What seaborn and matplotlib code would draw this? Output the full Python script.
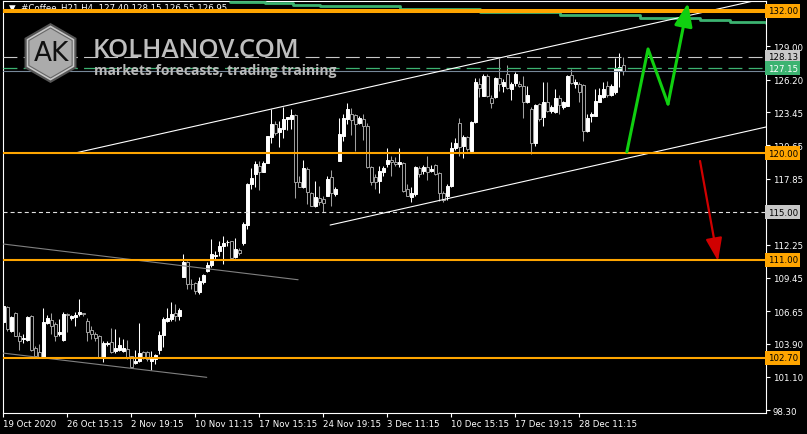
import matplotlib
matplotlib.use('Agg')
import matplotlib.pyplot as plt
from matplotlib.patches import RegularPolygon
import seaborn as sns
import numpy as np

# H4 candles, #Coffee_H21
opens = [105.70, 106.97, 105.00, 106.46, 104.52, 104.30, 104.21, 106.21, 103.53, 103.22,
         102.75, 105.62, 105.93, 105.56, 104.69, 104.24, 106.43, 106.04, 106.12, 106.38,
         106.49, 105.84, 105.06, 104.72, 104.52, 102.75, 103.90, 104.07, 103.25, 103.39,
         103.31, 103.45, 102.83, 102.27, 102.47, 103.17, 103.17, 102.47, 102.61, 103.36,
         104.63, 105.84, 105.98, 106.46, 106.26, 109.56, 110.77, 108.97, 109.00, 108.24,
         109.09, 110.07, 110.58, 111.28, 111.70, 112.18, 112.46, 112.58, 111.20, 111.82,
         112.41, 113.96, 117.39, 118.23, 118.94, 118.43, 119.16, 121.33, 122.46, 121.75,
         122.03, 122.88, 122.91, 123.24, 117.53, 117.16, 118.66, 116.60, 115.56, 116.21,
         116.13, 116.41, 117.96, 116.55, 119.36, 121.48, 122.88, 123.30, 123.22, 122.54,
         122.88, 122.32, 118.80, 117.96, 117.67, 118.44, 119.08, 119.45, 119.28, 119.08,
         119.17, 116.97, 116.27, 116.55, 118.72, 118.52, 118.80, 118.46, 119.00, 118.32,
         116.63, 116.35, 117.20, 120.40, 122.54, 120.57, 121.33, 120.20, 122.59, 125.83,
         124.84, 126.53, 124.62, 124.70, 126.31, 125.69, 126.67, 125.41, 125.91, 125.83,
         125.69, 124.28, 123.72, 120.85, 124.14, 123.01, 124.34, 123.58, 123.44, 124.62,
         123.86, 124.00, 126.59, 125.83, 125.80, 125.75, 121.89, 123.10, 123.16, 124.34,
         124.70, 125.63, 124.90, 125.13, 126.96, 127.40]
highs = [108.09, 107.11, 106.26, 106.60, 104.91, 104.72, 106.21, 106.32, 103.73, 103.87,
         106.89, 106.32, 106.46, 105.70, 105.98, 106.60, 106.49, 106.35, 106.60, 107.67,
         106.49, 106.04, 105.42, 104.86, 104.63, 104.15, 104.15, 105.20, 105.14, 104.43,
         104.30, 104.24, 102.89, 103.39, 105.65, 103.31, 103.28, 103.31, 103.03, 105.00,
         106.12, 106.89, 107.39, 107.25, 106.89, 111.48, 110.91, 109.37, 109.09, 109.56,
         109.79, 110.77, 112.74, 111.70, 112.60, 113.03, 112.66, 112.60, 112.83, 111.98,
         114.15, 117.45, 118.74, 119.36, 119.36, 119.36, 121.44, 123.72, 122.68, 122.68,
         123.86, 123.08, 123.72, 123.30, 118.09, 119.42, 118.80, 116.69, 117.61, 117.20,
         116.41, 118.10, 118.58, 117.11, 122.94, 123.30, 124.23, 123.78, 123.30, 123.16,
         123.30, 122.54, 118.89, 118.24, 118.89, 118.89, 120.40, 119.73, 119.65, 120.40,
         119.22, 117.39, 117.11, 118.89, 118.94, 119.00, 119.73, 119.00, 119.05, 118.38,
         116.83, 117.39, 120.97, 121.25, 122.94, 121.53, 121.40, 122.73, 126.31, 126.31,
         126.67, 126.67, 124.90, 126.39, 128.00, 126.25, 127.43, 126.03, 126.81, 126.11,
         126.53, 125.69, 123.86, 124.14, 124.23, 126.03, 126.03, 124.06, 125.41, 124.90,
         124.42, 126.59, 127.10, 126.25, 125.97, 125.83, 123.30, 123.49, 125.41, 125.46,
         126.03, 126.11, 125.83, 128.00, 128.45, 128.15]
lows = [105.56, 105.00, 104.86, 104.52, 103.39, 103.96, 104.15, 103.31, 102.75, 102.66,
        102.66, 105.56, 104.72, 104.15, 104.57, 104.15, 104.86, 105.93, 105.42, 106.21,
        106.21, 104.15, 104.30, 104.15, 102.66, 102.38, 103.73, 103.11, 103.11, 103.31,
        103.23, 102.61, 101.82, 102.18, 102.32, 102.61, 102.44, 101.70, 102.18, 103.03,
        103.59, 105.70, 105.84, 105.84, 105.93, 109.51, 108.52, 108.52, 108.10, 108.10,
        108.94, 109.93, 110.35, 111.06, 111.34, 110.63, 112.18, 111.06, 111.14, 111.42,
        112.27, 113.59, 116.97, 117.11, 116.88, 118.37, 119.13, 120.82, 121.56, 120.54,
        121.27, 121.95, 122.03, 116.21, 117.11, 117.05, 115.70, 115.50, 115.47, 115.62,
        115.06, 116.35, 115.51, 116.35, 119.30, 121.05, 122.46, 121.53, 120.21, 122.46,
        121.14, 118.75, 117.31, 116.97, 116.63, 118.10, 118.80, 118.04, 118.89, 118.80,
        116.69, 116.35, 115.90, 116.35, 117.96, 118.24, 117.76, 118.38, 118.15, 115.98,
        115.90, 116.07, 117.15, 120.29, 119.73, 119.56, 120.20, 120.12, 122.54, 124.70,
        124.79, 124.70, 123.77, 124.62, 125.27, 125.18, 125.41, 124.51, 125.69, 125.55,
        122.93, 124.23, 119.92, 120.62, 122.73, 122.25, 123.49, 123.38, 123.38, 123.30,
        123.72, 123.94, 125.83, 125.46, 124.34, 121.04, 121.75, 122.59, 123.10, 124.28,
        124.62, 124.70, 124.84, 124.98, 125.55, 126.55]
closes = [107.11, 105.14, 106.12, 104.57, 104.15, 104.33, 106.12, 103.36, 102.89, 102.75,
          105.70, 106.04, 105.42, 104.57, 104.91, 106.40, 106.32, 106.21, 106.35, 106.55,
          106.43, 104.86, 104.72, 104.35, 102.75, 103.96, 103.93, 103.22, 103.53, 103.79,
          103.51, 102.66, 101.90, 102.47, 103.11, 102.75, 102.61, 102.66, 102.94, 104.63,
          105.98, 106.04, 106.40, 106.21, 106.74, 110.77, 108.94, 108.91, 108.38, 109.17,
          109.70, 110.55, 111.48, 111.42, 112.18, 112.41, 112.49, 111.11, 111.90, 111.53,
          114.01, 117.39, 117.87, 119.08, 118.43, 119.16, 121.44, 122.46, 121.67, 122.12,
          122.88, 123.02, 123.22, 117.53, 117.16, 118.74, 116.69, 115.56, 116.26, 115.84,
          115.79, 117.81, 116.63, 116.97, 121.62, 122.94, 123.73, 122.83, 122.46, 122.94,
          122.32, 118.80, 117.53, 117.59, 118.52, 118.72, 119.45, 119.28, 119.08, 119.28,
          116.83, 116.41, 116.63, 118.80, 118.24, 118.80, 118.44, 118.66, 118.24, 116.63,
          116.07, 117.25, 120.40, 120.86, 120.49, 121.33, 120.34, 122.59, 125.97, 125.46,
          126.53, 124.79, 124.23, 126.31, 125.83, 126.03, 125.46, 125.83, 126.67, 125.63,
          124.28, 124.90, 120.85, 124.06, 122.87, 124.28, 123.58, 123.86, 124.62, 124.06,
          124.28, 126.53, 125.91, 126.03, 125.13, 121.89, 122.93, 123.30, 124.42, 124.90,
          125.41, 124.90, 125.69, 127.15, 127.24, 126.95]

date_ticks = [0, 16, 32, 48, 64, 80, 96, 112, 128, 144]
date_labels = ['19 Oct 2020', '26 Oct 15:15', '2 Nov 19:15', '10 Nov 11:15', '17 Nov 15:15',
               '24 Nov 19:15', '3 Dec 11:15', '10 Dec 15:15', '17 Dec 19:15', '28 Dec 11:15']
price_ticks = [98.30, 101.10, 103.90, 106.65, 109.45, 112.25, 117.85, 120.65, 123.45, 126.20, 129.00]

orange_levels = [132.00, 120.00, 111.00, 102.70]
dashed_level = 115.00
white_level = 128.13
green_level = 127.15
bid_price = 126.95

# trend lines (bar index, price)
upper_ch_x = [17.9, 188.5]
upper_ch_y = [120.00, 132.91]
lower_ch_x = [81.7, 190.7]
lower_ch_y = [113.92, 122.20]
grey1_x = [-0.1, 73.7]
grey1_y = [112.32, 109.30]
grey2_x = [-0.15, 50.85]
grey2_y = [103.11, 101.06]

# slow average, green stepped line at the top
ma_x = [56.7, 65.4, 72.4, 79.2, 99.2, 119.2, 139.2, 159.2, 174.2, 181.7, 190.7]
ma_y = [132.76, 132.63, 132.50, 132.38, 132.17, 131.92, 131.66, 131.41, 131.24, 131.07, 130.99]

# forecast arrows
fc_up_x = [155.9, 161.2, 166.2, 171.2]
fc_up_y = [120.09, 128.79, 124.14, 132.67]
fc_dn_x = [174.2, 178.7]
fc_dn_y = [119.33, 110.88]

sns.set_theme(style='dark', rc={'axes.facecolor': 'black', 'figure.facecolor': 'black'})
plt.rcParams['font.family'] = ['DejaVu Sans']
plt.rcParams['lines.scale_dashes'] = False

W, H = 807, 435
fig = plt.figure(figsize=(W / 100, H / 100), dpi=100)
ax = fig.add_axes([3 / W, (H - 413.5) / H, 763 / W, 411.5 / H])
ax.set_facecolor('black')

n = len(opens)
idx = np.arange(n)
o = np.array(opens); c = np.array(closes)
bull = c >= o
wick_col = np.where(bull, '#ffffff', '#a0a0a0')
ax.vlines(idx, lows, highs, colors=wick_col, lw=0.75, zorder=2)
ax.bar(idx, np.maximum(np.abs(c - o), 0.05), bottom=np.minimum(o, c), width=0.7,
       color=np.where(bull, '#ffffff', '#000000'), edgecolor=wick_col, linewidth=0.7, zorder=3)

# horizontal levels
ax.axhline(orange_levels[0], color='#ffa500', lw=2.9, zorder=5)
for lv in orange_levels[1:]:
    ax.axhline(lv, color='#ffa500', lw=1.5, zorder=5)
ax.axhline(dashed_level, color='#e0e0e0', lw=0.8, ls=(0, (2.9, 2.2)), zorder=4)
ax.axhline(white_level, color='#c8c8c8', lw=0.8, ls=(0, (10, 4.5)), zorder=4)
ax.axhline(green_level, color='#3cb371', lw=0.9, ls=(0, (10, 4.5)), zorder=4)
ax.axhline(bid_price, color='#778899', lw=0.8, zorder=4)

sns.lineplot(x=ma_x, y=ma_y, ax=ax, color='#3cb371', lw=2.0, drawstyle='steps-post',
             estimator=None, sort=False, legend=False, zorder=4)
for xs, ys, col in [(upper_ch_x, upper_ch_y, 'white'), (lower_ch_x, lower_ch_y, 'white'),
                    (grey1_x, grey1_y, '#808080'), (grey2_x, grey2_y, '#808080')]:
    sns.lineplot(x=xs, y=ys, ax=ax, color=col, lw=0.8, estimator=None, sort=False,
                 legend=False, zorder=4)

# forecast path
sns.lineplot(x=fc_up_x[:3], y=fc_up_y[:3], ax=ax, color='#10d010', lw=2.2, estimator=None,
             sort=False, legend=False, zorder=6)
ax.annotate('', xy=(fc_up_x[3], fc_up_y[3]), xytext=(fc_up_x[2], fc_up_y[2]),
            arrowprops=dict(arrowstyle='-|>,head_length=1.4,head_width=0.55', color='#10d010',
                            lw=2.2, shrinkA=0, shrinkB=0, mutation_scale=10), zorder=6)
ax.annotate('', xy=(fc_dn_x[1], fc_dn_y[1]), xytext=(fc_dn_x[0], fc_dn_y[0]),
            arrowprops=dict(arrowstyle='-|>,head_length=1.4,head_width=0.5', color='#d00000',
                            lw=1.6, shrinkA=0, shrinkB=0, mutation_scale=10), zorder=6)

ax.set_xlim(-0.1, 190.7)
ax.set_ylim(98.09, 132.84)
for s in ax.spines.values():
    s.set_color('white')
    s.set_linewidth(0.8)
ax.yaxis.tick_right()
ax.set_yticks(price_ticks)
ax.set_yticklabels([f'{p:.2f}' for p in price_ticks])
ax.set_xticks(date_ticks)
ax.set_xticklabels(date_labels, ha='left')
ax.tick_params(axis='both', colors='white', labelsize=6.2, length=3, width=0.8, direction='out')
ax.tick_params(axis='y', pad=2, right=True, left=False)
ax.tick_params(axis='x', pad=1.5, bottom=True)
ax.grid(False)

# price tags on the right axis (they sit over the tick labels, as in the terminal)
tags = [(132.00, '#ffa500', 'black'), (128.13, '#c8c8c8', 'black'), (127.15, '#3cb371', 'white'),
        (120.00, '#ffa500', 'black'), (115.00, '#c8c8c8', 'black'), (111.00, '#ffa500', 'black'),
        (102.70, '#ffa500', 'black')]
for val, bg, fg in tags:
    ax.text(1.002, val, f'{val:.2f}', transform=ax.get_yaxis_transform(), ha='left', va='center',
            fontsize=6.2, color=fg, zorder=8, clip_on=False,
            bbox=dict(boxstyle='square,pad=0.3', fc=bg, ec='none'))

ax.text(6 / 763, 1 - 6 / 411.5, '\u25bc  #Coffee_H21,H4  127.40 128.15 126.55 126.95',
        transform=ax.transAxes, color='white', fontsize=6.2, va='center', ha='left', zorder=4.5)

# watermark
ov = fig.add_axes([0, 0, 1, 1], zorder=10)
ov.set_xlim(0, W)
ov.set_ylim(H, 0)
ov.axis('off')
ov.patch.set_alpha(0)
ov.add_patch(RegularPolygon((50.5, 54), 6, radius=30, fc='#555555', ec='none'))
ov.add_patch(RegularPolygon((50.5, 54), 6, radius=27.5, fc='#c8c8c8', ec='none'))
ov.add_patch(RegularPolygon((50.5, 54), 6, radius=25, fc='#ababab', ec='#666666', lw=0.8))
ov.text(51, 54, 'AK', fontsize=19, color='#111111', ha='center', va='center')
ov.text(93, 57, 'KOLHANOV.COM', fontsize=18.5, fontweight='semibold',
        family=['Open Sans', 'DejaVu Sans'], color='#bebebe', ha='left', va='baseline')
ov.text(94, 75, 'markets forecasts, trading training', fontsize=10, fontweight='bold',
        family=['Open Sans', 'DejaVu Sans'], color='#bababa', ha='left', va='baseline')

fig.savefig('out.png', dpi=100, facecolor='black')
